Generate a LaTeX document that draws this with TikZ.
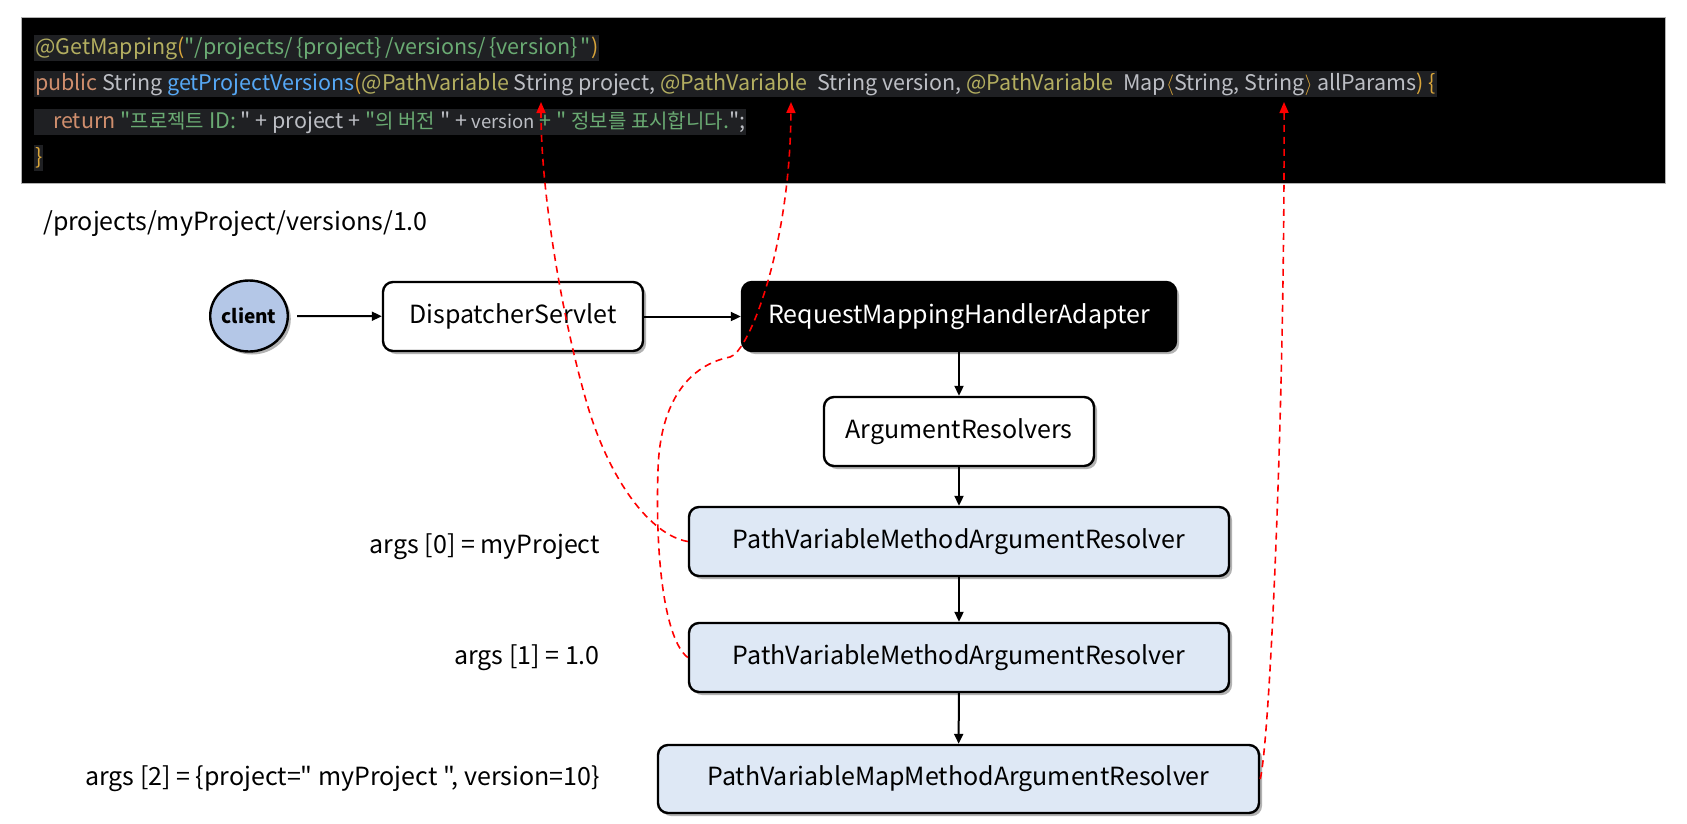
\documentclass[tikz,border=0pt]{standalone}
\usepackage{fontspec}
\setmainfont{Noto Sans CJK KR}[Ligatures=TeXOff]
\usetikzlibrary{shapes.geometric,shadows,arrows.meta}
\definecolor{hl}{HTML}{1F2023}
\definecolor{ann}{HTML}{B3AE60}
\definecolor{par}{HTML}{D9A53A}
\definecolor{strc}{HTML}{6AAB73}
\definecolor{kw}{HTML}{CF8E6D}
\definecolor{idf}{HTML}{BCBEC4}
\definecolor{fnc}{HTML}{56A8F5}
\definecolor{boxblue}{HTML}{DEE8F5}
\definecolor{clientblue}{HTML}{B4C7E7}
\definecolor{reddash}{HTML}{FF0000}
\newcommand{\kor}[1]{{\fontsize{20}{24}\selectfont #1}}
\begin{document}
\begin{tikzpicture}[x=1pt,y=-1pt,
  box/.style={draw=black, line width=2.4pt, rounded corners=10pt, fill=white,
    minimum height=69pt, inner sep=0pt, font=\fontsize{25}{29}\selectfont,
    drop shadow={shadow xshift=3pt, shadow yshift=-3pt, opacity=0.3, fill=black}},
  bluebox/.style={box, fill=boxblue},
  blackbox/.style={box, fill=black, text=white},
  codeline/.style={fill=hl, inner xsep=1pt, inner ysep=2pt, text=idf,
    font=\fontsize{21.5}{24}\selectfont, text height=17pt, text depth=5pt, anchor=west},
  plain/.style={font=\fontsize{25}{29}\selectfont, inner sep=0pt},
  arr/.style={-{Triangle[length=10pt,width=9pt]}, line width=2pt},
  redarr/.style={draw=reddash, line width=1.6pt, dash pattern=on 7pt off 5pt,
    -{Triangle[length=11pt,width=9pt]}}
]
\useasboundingbox (0,0) rectangle (1687,823);

% code block
\node[fill=black, draw=gray!60, line width=0.8pt, minimum width=1644pt, minimum height=166pt, inner sep=0pt] (code) at (843.5,100) {};
\node[codeline] (l1) at (34,48) {\textcolor{ann}{@GetMapping}\textcolor{par}{(}\textcolor{strc}{"/projects/\,\{project\}\,/versions/\,\{version\}\,"}\textcolor{par}{)}};
\node[codeline] (l2) at (34,84) {\textcolor{kw}{public} String \textcolor{fnc}{getProjectVersions}\textcolor{par}{(}\textcolor{ann}{@PathVariable} String project, \textcolor{ann}{@PathVariable}\ \ String version, \textcolor{ann}{@PathVariable}\ \ Map\textcolor{par}{$\langle$}String, String\textcolor{par}{$\rangle$} allParams\textcolor{par}{)} \textcolor{par}{\{}};
\node[codeline] (l3) at (34,122) {\hspace{18pt}\textcolor{kw}{return} \textcolor{strc}{"\kor{프로젝트} ID: }" + project + \textcolor{strc}{"\kor{의 버전} }" + {\fontsize{18.5}{20}\selectfont version} \textcolor{strc}{+} \textcolor{strc}{" \kor{정보를 표시합니다}.}";};
\node[codeline] (l4) at (34,158) {\textcolor{par}{\}}};

% url
\node[plain, anchor=west] (url) at (43,224) {/projects/myProject/versions/1.0};

% nodes
\node[ellipse, draw=black, line width=2.4pt, fill=clientblue, minimum width=69pt, minimum height=71pt, inner sep=0pt,
  font=\bfseries\fontsize{19}{22}\selectfont,
  drop shadow={shadow xshift=3pt, shadow yshift=-3pt, opacity=0.3, fill=black}] (client) at (249,316) {client};
\node[box, minimum width=260pt] (ds) at (513,316.5) {DispatcherServlet};
\node[blackbox, minimum width=434pt] (rmha) at (959,316.5) {RequestMappingHandlerAdapter};
\node[box, minimum width=270pt] (ar) at (959,431.5) {ArgumentResolvers};
\node[bluebox, minimum width=540pt] (pv1) at (959,541.5) {PathVariableMethodArgumentResolver};
\node[bluebox, minimum width=540pt] (pv2) at (959,657.5) {PathVariableMethodArgumentResolver};
\node[bluebox, minimum width=601pt, minimum height=68pt] (pvm) at (958.5,779) {PathVariableMapMethodArgumentResolver};

% labels
\node[plain, anchor=east] (a0) at (600,547) {args [0] = myProject};
\node[plain, anchor=east] (a1) at (600,658) {args [1] = 1.0};
\node[plain, anchor=east] (a2) at (600,779) {args [2] = \{project=" myProject ", version=10\}};

% black arrows
\draw[arr, shorten <=8pt] (client) -- (ds);
\draw[arr] (ds) -- (rmha);
\draw[arr] (rmha) -- (ar);
\draw[arr] (ar) -- (pv1);
\draw[arr] (pv1) -- (pv2);
\draw[arr] (pv2) -- (pvm);

% red dashed arrows
\coordinate (t1) at (541,102);
\coordinate (t2) at (791,102);
\coordinate (t3) at (1284,102);
\draw[redarr] (pv1.west) .. controls (650,535) and (610,480) .. (588,407) .. controls (565,330) and (541,200) .. (t1);
\draw[redarr] (pv2.west) .. controls (665,640) and (655,560) .. (658,470) .. controls (660,400) and (690,365) .. (730,357) .. controls (748,353) and (790,250) .. (t2);
\draw[redarr] (pvm.east) .. controls (1270,740) and (1285,400) .. (t3);
\end{tikzpicture}
\end{document}
